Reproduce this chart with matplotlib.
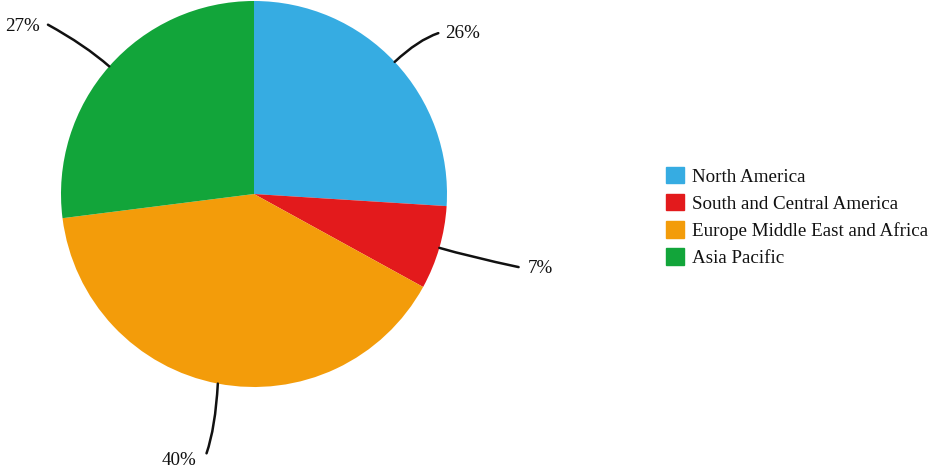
import numpy as np
import matplotlib
matplotlib.use("Agg")
import matplotlib.pyplot as plt
from matplotlib.path import Path
from matplotlib.patches import PathPatch

categories = ["North America", "South and Central America",
              "Europe Middle East and Africa", "Asia Pacific"]
values = [26, 7, 40, 27]
colors = ["#36ACE2", "#E31A1C", "#F39C0A", "#12A53A"]

W, H = 930, 470
fig = plt.figure(figsize=(W / 100, H / 100), dpi=100)
ax = fig.add_axes([0, 0, 1, 1])

cx, cy, r = 254, H - 194, 193
ax.pie(values, colors=colors, startangle=90, counterclock=False,
       radius=r, center=(cx, cy), frame=True,
       wedgeprops=dict(linewidth=0))
ax.set_xlim(0, W)
ax.set_ylim(0, H)
ax.set_aspect("equal")
ax.axis("off")

# leader-line layout: (ctrl radius, end radius, horizontal extension, label dx, label dy, ha)
layout = [
    (225, 235, 13, 7, 0, "left"),
    (225, 262, 13, 9, -1, "left"),
    (238, 264, -2, -10, -7, "right"),
    (225, 256, 14, -8, -2, "right"),
]
font_lbl = dict(family="Liberation Serif", size=13.7)
total = sum(values)
cum = 0
for v, (rc, rend, h, dx, dy, ha) in zip(values, layout):
    mid = 90 - (cum + v / 2) / total * 360
    cum += v
    a = np.deg2rad(mid)
    c, s = np.cos(a), np.sin(a)
    side = 1 if c >= 0 else -1
    p0 = (cx + r * c, cy + r * s)
    p1 = (cx + rc * c + (6 if v == 40 else 0), cy + rc * s)
    p2 = (cx + rend * c + side * h, cy + rend * s)
    path = Path([p0, p1, p2], [Path.MOVETO, Path.CURVE3, Path.CURVE3])
    ax.add_patch(PathPatch(path, fill=False, lw=1.8, color="#111111",
                           capstyle="round"))
    ax.text(p2[0] + dx, p2[1] + dy, f"{v}%", ha=ha, va="center",
            color="#111111", **font_lbl)

handles = [plt.Rectangle((0, 0), 1, 1, color=col) for col in colors]
leg = fig.legend(handles, categories, loc="center left",
                 bbox_to_anchor=(666 / W, 1 - 217 / H),
                 frameon=False, prop=dict(family="Liberation Serif", size=13.7),
                 handlelength=0.95, handleheight=0.95, handletextpad=0.42,
                 labelspacing=0.44, borderpad=0, borderaxespad=0)
for t in leg.get_texts():
    t.set_color("#111111")

fig.savefig("out.png", dpi=100)
